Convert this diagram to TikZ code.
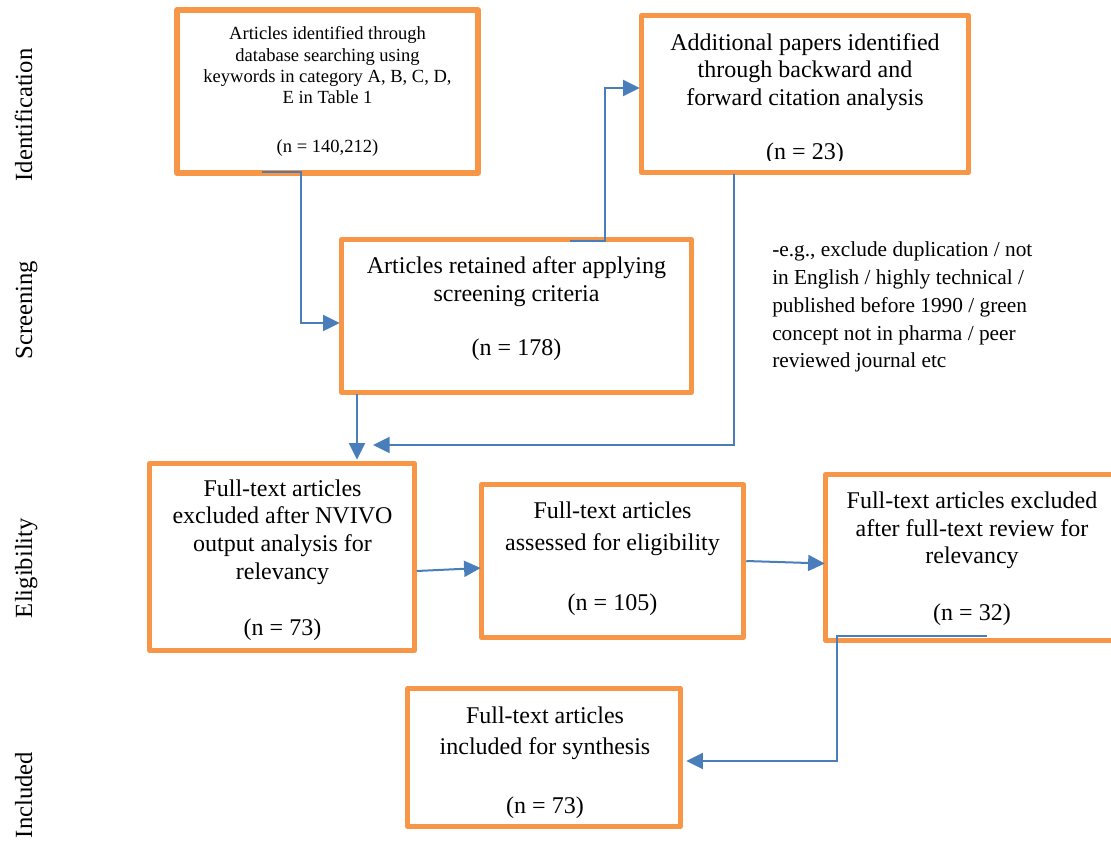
\documentclass[tikz,border=0pt]{standalone}
\usepackage{fontspec}
\setmainfont{Liberation Serif}
\usetikzlibrary{arrows.meta,calc}
\definecolor{boxorange}{RGB}{247,150,70}
\definecolor{arrblue}{RGB}{74,126,187}
\begin{document}
\begin{tikzpicture}[x=0.75pt,y=-0.75pt,
 box/.style={draw=boxorange,line width=4pt,line join=round,inner sep=0pt,outer sep=0pt},
 arr/.style={draw=arrblue,line width=1.5pt,-{Triangle[length=12.5pt,width=12pt]}},
 big/.style={font=\fontsize{18}{21}\selectfont,anchor=base,inner sep=0pt},
 small/.style={font=\fontsize{13.9}{16}\selectfont,anchor=base,inner sep=0pt},
 note/.style={font=\fontsize{16}{20}\selectfont,anchor=base west,inner sep=0pt},
 side/.style={font=\fontsize{18.5}{22}\selectfont,anchor=base,rotate=90,inner sep=0pt}]
\useasboundingbox (0,0) rectangle (1111,843);
\clip (0,0) rectangle (1111,843);

% boxes
\node[box,minimum width={301*0.75pt},minimum height={163*0.75pt}] (b1) at (327.5,91.5) {};
\node[box,minimum width={326.5*0.75pt},minimum height={156.5*0.75pt}] (b2) at (805,94) {};
\node[box,minimum width={349.5*0.75pt},minimum height={152.5*0.75pt}] (b3) at (516.5,316) {};
\node[box,minimum width={264.5*0.75pt},minimum height={186.5*0.75pt}] (b4) at (282,557) {};
\node[box,minimum width={261.5*0.75pt},minimum height={152.5*0.75pt}] (b5) at (612.5,561) {};
\node[box,minimum width={294.25*0.75pt},minimum height={165.5*0.75pt}] (b6) at (972.9,557.5) {};
\node[box,minimum width={272.5*0.75pt},minimum height={137.5*0.75pt}] (b7) at (544,757.5) {};

% side labels
\node[side] (sIdent) at (32,115) {Identification};
\node[side] (sScreen) at (32,310) {Screening};
\node[side] (sElig) at (32,568) {Eligibility};
\node[side] (sIncl) at (32,795) {Included};

% box 1 text
\node[small] (t1a) at (327.5,39) {Articles identified through};
\node[small] (t1b) at (327.5,61) {database searching using};
\node[small] (t1c) at (327.5,82) {keywords in category A, B, C, D,};
\node[small] (t1d) at (327.5,103) {E in Table 1};
\node[small] (t1n) at (327.5,152.5) {(n = 140,212)};

% box 2 text
\node[big] (t2a) at (805,50) {Additional papers identified};
\node[big] (t2b) at (805,77.5) {through backward and};
\node[big] (t2c) at (805,105) {forward citation analysis};
\begin{scope}
\clip (700,120) rectangle (900,160);
\node[big] (t2n) at (805,159) {(n = 23)};
\end{scope}

% box 3 text
\node[big] (t3a) at (516.5,273) {Articles retained after applying};
\node[big] (t3b) at (516.5,301.5) {screening criteria};
\node[big] (t3n) at (516.5,355) {(n = 178)};

% note
\node[note] (na) at (772,256.7) {-e.g., exclude duplication / not};
\node[note] (nb) at (772,284.3) {in English / highly technical /};
\node[note] (nc) at (772,312.3) {published before 1990 / green};
\node[note] (nd) at (772,340) {concept not in pharma / peer};
\node[note] (ne) at (772,367.3) {reviewed journal etc};

% box 4 text
\node[big] (t4a) at (282.5,496.7) {Full-text articles};
\node[big] (t4b) at (282.5,523.3) {excluded after NVIVO};
\node[big] (t4c) at (282.5,551.7) {output analysis for};
\node[big] (t4d) at (282.5,579) {relevancy};
\node[big] (t4n) at (282.5,635) {(n = 73)};

% box 5 text
\node[big] (t5a) at (612.5,518.3) {Full-text articles};
\node[big] (t5b) at (612.5,550.7) {assessed for eligibility};
\node[big] (t5n) at (612.5,610.7) {(n = 105)};

% box 6 text
\node[big] (t6a) at (972,508.3) {Full-text articles excluded};
\node[big] (t6b) at (972,536) {after full-text review for};
\node[big] (t6c) at (972,563.3) {relevancy};
\node[big] (t6n) at (972,620) {(n = 32)};

% box 7 text
\node[big] (t7a) at (545,723.3) {Full-text articles};
\node[big] (t7b) at (545,754) {included for synthesis};
\node[big] (t7n) at (545,813.3) {(n = 73)};

% connectors
\coordinate (m) at (373,445);
\draw[arr] ($(b1.south)+(-65.5,-1)$) -| ($(b3.west)+(-41,7)$) -- ($(b3.west)+(-2,7)$);
\draw[arr] ($(b3.north)+(53.5,1)$) -| ($(b2.west)+(-37,-6)$) -- ($(b2.west)+(-2,-6)$);
\draw[arr] ($(b2.south)+(-71,2)$) |- (m);
\draw[arr] ($(b3.south)+(-159.5,2)$) -- ($(b4.north)+(75,-4)$);
\draw[arr] ($(b4.east)+(2.5,14)$) -- ($(b5.west)+(-1,7)$);
\draw[arr] ($(b5.east)+(3,0)$) -- ($(b6.west)+(-1,6)$);
\draw[arr] ($(b6.south)+(14,-4)$) -| ($(b7.east)+(157,3.5)$) -- ($(b7.east)+(6,3.5)$);
\end{tikzpicture}
\end{document}
